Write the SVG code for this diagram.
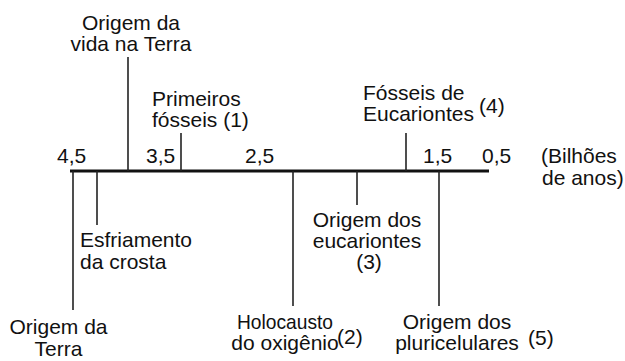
<svg xmlns="http://www.w3.org/2000/svg" width="625" height="361" viewBox="0 0 625 361">
<style>
text{font-family:"Liberation Sans",Arial,sans-serif;font-size:21px;fill:#111}
.m{text-anchor:middle}
.tick{stroke:#222;stroke-width:1.6;fill:none}
.axis{stroke:#111;stroke-width:3;fill:none}
</style>
<rect width="625" height="361" fill="#fff"/>
<g id="axis">
<line class="axis" x1="70" y1="171" x2="489" y2="171"/>
<text x="57" y="162.5">4,5</text>
<text x="146" y="162.5">3,5</text>
<text x="245" y="162.5">2,5</text>
<text x="423" y="162.5">1,5</text>
<text x="482" y="162.5">0,5</text>
</g>
<g id="unit">
<text x="541" y="163">(Bilhões</text>
<text x="542" y="185">de anos)</text>
</g>
<g id="connectors">
<line class="tick" x1="128" y1="57" x2="128" y2="171"/>
<line class="tick" x1="181" y1="133" x2="181" y2="171"/>
<line class="tick" x1="406" y1="133" x2="406" y2="171"/>
<line class="tick" x1="73" y1="171" x2="73" y2="310"/>
<line class="tick" x1="97" y1="171" x2="97" y2="225"/>
<line class="tick" x1="293" y1="171" x2="293" y2="306"/>
<line class="tick" x1="357" y1="171" x2="357" y2="205"/>
<line class="tick" x1="439" y1="171" x2="439" y2="306"/>
</g>
<g id="origem-vida">
<text class="m" x="131" y="30">Origem da</text>
<text class="m" x="131" y="50.5">vida na Terra</text>
</g>
<g id="primeiros-fosseis">
<text x="152" y="106">Primeiros</text>
<text x="152" y="126.5">fósseis (1)</text>
</g>
<g id="fosseis-eucariontes">
<text x="363" y="100">Fósseis de</text>
<text x="363" y="121">Eucariontes</text>
<text x="479" y="113">(4)</text>
</g>
<g id="origem-terra">
<text class="m" x="58.5" y="334">Origem da</text>
<text class="m" x="58.5" y="355.5">Terra</text>
</g>
<g id="esfriamento">
<text x="80" y="247">Esfriamento</text>
<text x="80" y="269">da crosta</text>
</g>
<g id="holocausto">
<text class="m" x="285" y="328.5" textLength="96" lengthAdjust="spacingAndGlyphs">Holocausto</text>
<text class="m" x="285" y="350">do oxigênio</text>
<text x="337" y="344">(2)</text>
</g>
<g id="origem-eucariontes">
<text class="m" x="367" y="227">Origem dos</text>
<text class="m" x="367" y="248">eucariontes</text>
<text class="m" x="369" y="268.5">(3)</text>
</g>
<g id="origem-pluricelulares">
<text class="m" x="457" y="328.5">Origem dos</text>
<text class="m" x="457" y="350">pluricelulares</text>
<text x="528" y="345">(5)</text>
</g>
</svg>
